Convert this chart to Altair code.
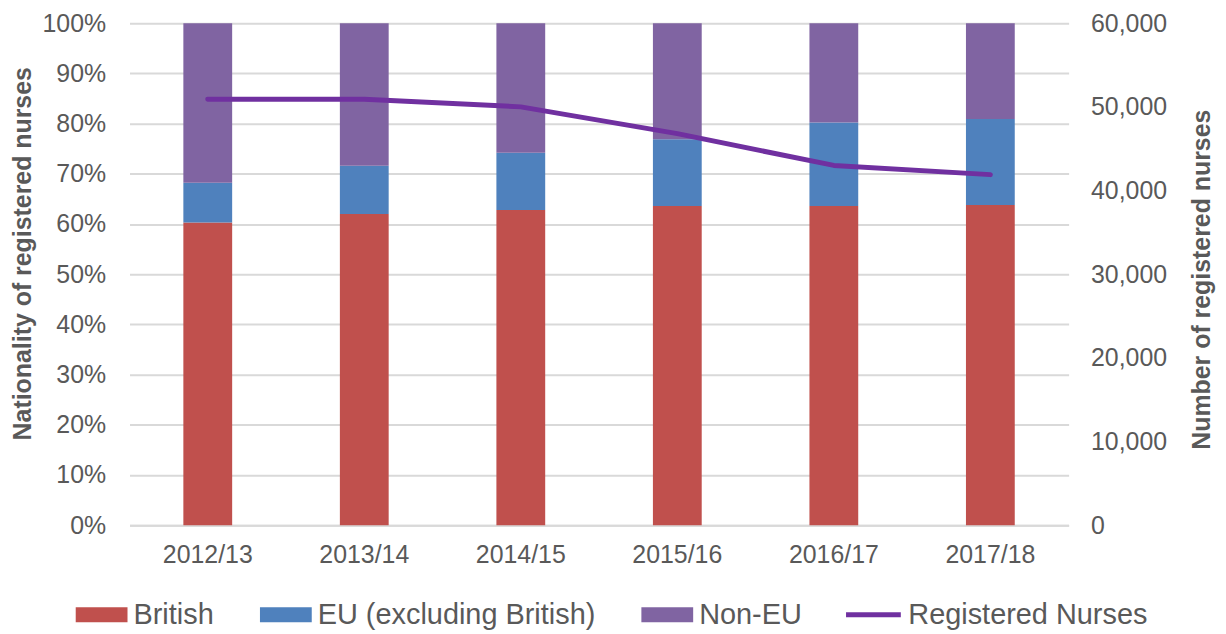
import altair as alt
import pandas as pd

years = ["2012/13", "2013/14", "2014/15", "2015/16", "2016/17", "2017/18"]
british = [60.3, 62.0, 62.8, 63.6, 63.6, 63.8]
eu = [7.9, 9.6, 11.4, 13.3, 16.6, 17.1]
non_eu = [round(100 - b - e, 1) for b, e in zip(british, eu)]
nurses = [50900, 50900, 50000, 46800, 43000, 41900]

categories = ["British", "EU (excluding British)", "Non-EU"]
colors = ["#C0504D", "#4F81BD", "#8064A2"]
line_label = "Registered Nurses"
line_color = "#7030A0"

pct_ticks = [i / 10 for i in range(11)]
num_ticks = [0, 10000, 20000, 30000, 40000, 50000, 60000]

rows = []
for i, yr in enumerate(years):
    for k, (cat, vals) in enumerate(zip(categories, [british, eu, non_eu])):
        rows.append({"year": yr, "group": cat, "share": vals[i] / 100, "order": k})
bars_df = pd.DataFrame(rows)
line_df = pd.DataFrame({"year": years, "nurses": nurses, "series": [line_label] * len(years)})

TXT = "#595959"
GRID = "#D9D9D9"

x_enc = alt.X(
    "year:N",
    sort=years,
    title=None,
    scale=alt.Scale(paddingInner=0, paddingOuter=0),
    axis=alt.Axis(
        labelAngle=0, labelFontSize=25, labelColor=TXT, labelPadding=18,
        ticks=False, domainColor=GRID, domainWidth=2, grid=False,
    ),
)

bars = alt.Chart(bars_df).mark_bar(size=49).encode(
    x=x_enc,
    y=alt.Y(
        "share:Q",
        stack="zero",
        scale=alt.Scale(domain=[0, 1], nice=False),
        axis=alt.Axis(
            format=".0%", values=pct_ticks, title="Nationality of registered nurses",
            labelFontSize=25, labelColor=TXT, labelPadding=24,
            grid=True, gridColor=GRID, gridWidth=2, domain=False, ticks=False,
            titleFontSize=25, titleFontWeight="bold", titleColor=TXT,
            titleAngle=270, titleBaseline="alphabetic", titleAlign="center",
            titleX=-99, titleY=231,
        ),
    ),
    color=alt.Color(
        "group:N",
        scale=alt.Scale(domain=categories, range=colors),
        legend=alt.Legend(
            title=None, orient="none", legendX=-54, legendY=568,
            direction="horizontal", symbolType="M-1,-0.29H1V0.29H-1Z",
            symbolSize=2704, symbolStrokeWidth=0, symbolOpacity=1,
            labelFontSize=29, labelColor=TXT, labelOffset=6, labelLimit=500,
            columnPadding=46, padding=0,
        ),
    ),
    order=alt.Order("order:Q"),
)

line = alt.Chart(line_df).mark_line(strokeWidth=5, strokeCap="round", strokeJoin="round").encode(
    x=x_enc,
    y=alt.Y(
        "nurses:Q",
        scale=alt.Scale(domain=[0, 60000], nice=False),
        axis=alt.Axis(
            orient="right", format=",.0f", values=num_ticks,
            title="Number of registered nurses",
            labelFontSize=25, labelColor=TXT, labelPadding=22,
            grid=False, domain=False, ticks=False,
            titleFontSize=25, titleFontWeight="bold", titleColor=TXT,
            titleAngle=270, titleBaseline="alphabetic", titleAlign="center",
            titleX=141, titleY=257,
        ),
    ),
    stroke=alt.Stroke(
        "series:N",
        scale=alt.Scale(domain=[line_label], range=[line_color]),
        legend=alt.Legend(
            title=None, orient="none", legendX=717, legendY=564,
            symbolType="stroke", symbolSize=3025, symbolStrokeWidth=5,
            labelFontSize=29, labelColor=TXT, labelOffset=5, labelLimit=500,
            padding=0,
        ),
    ),
)

chart = (
    alt.layer(bars, line)
    .resolve_scale(y="independent")
    .properties(
        width=943,
        height=504,
        autosize=alt.AutoSizeParams(type="none"),
        padding={"left": 122, "top": 14, "right": 150, "bottom": 104},
        background="white",
    )
    .configure(font="Liberation Sans")
    .configure_view(strokeWidth=0)
)

chart.save("out.html", embed_options={"renderer": "svg", "actions": False})
